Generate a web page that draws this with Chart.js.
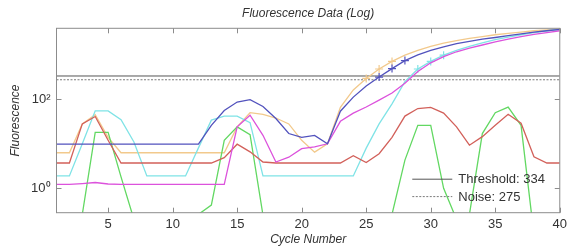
<!DOCTYPE html>
<html>
<head>
<meta charset="utf-8">
<script src="https://cdn.jsdelivr.net/npm/chart.js@4.4.1/dist/chart.umd.min.js"></script>
<style>
  html, body { margin: 0; padding: 0; background: #fff; }
</style>
</head>
<body>
<canvas id="qpcrChart" width="571" height="250"></canvas>
<script>
const cycles = [1,2,3,4,5,6,7,8,9,10,11,12,13,14,15,16,17,18,19,20,21,22,23,24,25,26,27,28,29,30,31,32,33,34,35,36,37,38,39,40];

// fluorescence per cycle, one list per well
const blueWell = [9.8,9.8,9.8,9.8,9.8,9.8,9.8,9.8,9.8,9.8,9.8,9.8,26,56,87,98,69,37,17,14,15.5,10,54,112,200,316,490,740,1000,1260,1510,1780,2000,2240,2450,2690,2950,3240,3470,3720];
const orangeWell = [6.3,6.3,28,45,14,6.3,6.3,6.3,6.3,6.3,6.3,6.3,6.3,6.3,24,50,46,38,28,12,6.5,10,66,162,295,480,710,980,1260,1550,1820,2090,2340,2570,2820,3020,3240,3470,3630,3800];
const redWell = [3.7,3.7,28,41,12,3.7,3.7,3.7,3.7,3.7,3.7,3.7,3.7,4.9,9.8,6.6,3.9,3.7,3.7,3.7,3.7,3.7,3.7,5.4,3.8,6.0,14,42,62,66,49,24,9.3,14.5,26,46,29,5.1,3.7,3.7];
const cyanWell = [1.9,1.9,10,55,55,35,11,1.9,1.9,1.9,1.9,8.1,34,42,42,30,1.9,1.9,1.9,1.9,1.9,1.9,1.9,1.9,8,28,79,250,480,710,980,1260,1550,1860,2190,2510,2820,3160,3470,3720];
const greenWell = [0.05,0.05,0.26,18,18,1.8,0.2,0.05,0.05,0.05,0.05,0.26,0.42,12,24,16,0.25,0.05,0.05,0.05,0.05,0.05,0.05,0.05,0.05,0.05,0.26,4.3,26,26,1.0,0.2,0.26,17,50,67,26,0.09,0.05,0.05];
const magentaWell = [1.22,1.22,1.28,1.35,1.25,1.22,1.22,1.22,1.22,1.22,1.22,1.22,1.22,1.22,24,44,15.5,3.9,5.0,7.8,8.5,10,32,49,67,96,138,230,420,660,910,1170,1410,1660,1950,2240,2570,2880,3160,3470];

// cycles flagged with a "+" marker
const blueMarks = [26,27,28];
const orangeMarks = [25,26,27];
const cyanMarks = [29,30,31];

const thresholdValue = 334;
const noiseValue = 275;

const xTicks = [5,10,15,20,25,30,35,40];
const yTicks = [1,100];
const yTickLabels = ['10\u2070','10\u00b2'];

const chartTitle = 'Fluorescence Data (Log)';
const fontFamily = '"Liberation Sans", Arial, sans-serif';

function toPoints(values) {
    return cycles.map((c, i) => ({x: c, y: values[i]}));
}

function well(values, color, marks) {
    return {
        data: toPoints(values),
        borderColor: color,
        backgroundColor: color,
        borderWidth: 1.3,
        pointStyle: 'cross',
        pointBorderWidth: 1.2,
        pointRadius: ctx => (marks && marks.includes(cycles[ctx.dataIndex])) ? 4 : 0,
        tension: 0,
        clip: 0
    };
}

function levelLine(label, value, color, dash) {
    return {
        label: label,
        data: [{x: cycles[0], y: value}, {x: cycles[cycles.length - 1], y: value}],
        borderColor: color,
        borderWidth: 1,
        borderDash: dash,
        pointRadius: 0,
        clip: 0
    };
}

const thresholdSet = levelLine('Threshold: ' + thresholdValue, thresholdValue, '#555555', []);
const noiseSet = levelLine('Noise: ' + noiseValue, noiseValue, '#7a7a7a', [2, 1.5]);

const framePlugin = {
    id: 'frame',
    afterDatasetsDraw(chart) {
        const {ctx, chartArea: a, scales: {x, y}} = chart;
        ctx.save();
        ctx.strokeStyle = '#8c8c8c';
        ctx.lineWidth = 1;
        ctx.strokeRect(a.left, a.top, a.right - a.left, a.bottom - a.top);
        ctx.beginPath();
        x.ticks.forEach(t => {
            const px = Math.round(x.getPixelForValue(t.value)) + 0.5;
            ctx.moveTo(px, a.top); ctx.lineTo(px, a.top + 5);
            ctx.moveTo(px, a.bottom); ctx.lineTo(px, a.bottom - 5);
        });
        y.ticks.forEach(t => {
            const py = Math.round(y.getPixelForValue(t.value)) + 0.5;
            ctx.moveTo(a.left, py); ctx.lineTo(a.left + 5, py);
            ctx.moveTo(a.right, py); ctx.lineTo(a.right - 5, py);
        });
        ctx.stroke();
        ctx.restore();
    },
    afterDraw(chart) {
        const {ctx, chartArea: a} = chart;
        ctx.save();
        ctx.fillStyle = '#333';
        ctx.font = 'italic 12px ' + fontFamily;
        ctx.textAlign = 'center';
        ctx.textBaseline = 'middle';
        ctx.fillText(chartTitle, (a.left + a.right) / 2, 13.5);

        // legend for threshold and noise lines
        const rows = [thresholdSet, noiseSet];
        const x0 = a.right - 147.5;
        ctx.font = '13px ' + fontFamily;
        ctx.textAlign = 'left';
        rows.forEach((ds, i) => {
            const yy = a.bottom - 33.5 + i * 17.4;
            ctx.strokeStyle = ds.borderColor;
            ctx.lineWidth = 1;
            ctx.setLineDash(ds.borderDash);
            ctx.beginPath();
            ctx.moveTo(x0, yy);
            ctx.lineTo(x0 + 40, yy);
            ctx.stroke();
            ctx.setLineDash([]);
            ctx.fillStyle = '#333';
            ctx.fillText(ds.label, x0 + 46, yy + 0.5);
        });
        ctx.restore();
    }
};

const ctx = document.getElementById('qpcrChart');

new Chart(ctx, {
    type: 'line',
    data: {
        datasets: [
            well(blueWell, '#5252bd', blueMarks),
            well(magentaWell, '#dc52dc'),
            well(redWell, '#d2605a'),
            well(greenWell, '#62d862'),
            well(cyanWell, '#7fe3e6', cyanMarks),
            well(orangeWell, '#f2c98c', orangeMarks),
            thresholdSet,
            noiseSet
        ]
    },
    options: {
        responsive: false,
        animation: false,
        layout: {padding: {top: 28.3, right: 8.5, left: 0, bottom: 0}},
        plugins: {
            legend: {display: false},
            tooltip: {enabled: false},
            title: {display: false}
        },
        scales: {
            x: {
                type: 'linear',
                min: 1,
                max: 40,
                afterBuildTicks: scale => { scale.ticks = xTicks.map(v => ({value: v})); },
                afterFit: scale => { scale.height = 37.3; },
                grid: {display: false, drawTicks: false},
                border: {display: false},
                ticks: {
                    padding: 4,
                    color: '#333',
                    font: {size: 13, family: fontFamily},
                    maxRotation: 0
                },
                title: {
                    display: true,
                    text: 'Cycle Number',
                    color: '#333',
                    font: {size: 12, style: 'italic', family: fontFamily},
                    padding: {top: 0, bottom: 3}
                }
            },
            y: {
                type: 'logarithmic',
                min: 0.283,
                max: 3940,
                afterBuildTicks: scale => { scale.ticks = yTicks.map(v => ({value: v})); },
                afterFit: scale => { scale.width = 56.5; },
                grid: {display: false, drawTicks: false},
                border: {display: false},
                ticks: {
                    padding: 6,
                    color: '#333',
                    font: {size: 13, family: fontFamily},
                    callback: (value) => yTickLabels[yTicks.indexOf(value)]
                },
                title: {
                    display: true,
                    text: 'Fluorescence',
                    color: '#333',
                    font: {size: 12, style: 'italic', family: fontFamily},
                    padding: {top: 8.6, bottom: 0}
                }
            }
        }
    },
    plugins: [framePlugin]
});
</script>
</body>
</html>
